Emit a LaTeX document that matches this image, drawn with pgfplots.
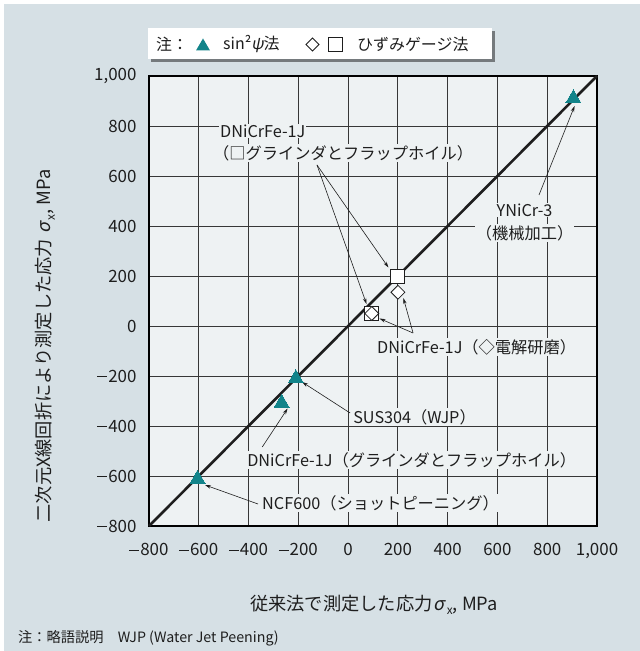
\documentclass[border=0pt]{standalone}
\usepackage{graphicx}
\usepackage{pgfplots}
\pgfplotsset{compat=1.18}
\usepackage{fontspec}
\setmainfont{Noto Sans CJK JP}
\newfontfamily\slantfont{Noto Sans CJK JP}[FakeSlant=0.2]
\usetikzlibrary{arrows.meta,shadows}

\definecolor{panel}{RGB}{214,224,229}
\definecolor{plotbg}{RGB}{238,242,243}
\definecolor{tealmark}{RGB}{18,132,138}
\definecolor{gridc}{RGB}{55,55,55}
\definecolor{inkc}{RGB}{30,30,30}

\newcommand{\sig}{\kern0.06em{\slantfont σ}\kern0.12em\raisebox{-0.25em}{\scalebox{0.65}{x}}}
\newcommand{\annfont}{\fontsize{16.3}{18}\selectfont}
\newcommand{\labfont}{\fontsize{18.3}{20}\selectfont}
% long minus for the tick labels
\newcommand{\mn}{\rule[0.3em]{0.58em}{0.07em}\kern0.06em}

\begin{document}
\begin{tikzpicture}
\useasboundingbox (0,0) rectangle (640bp,651bp);
\fill[panel] (4bp,0) rectangle (640bp,647bp);

\begin{axis}[
  at={(149bp,125bp)}, anchor=south west,
  width=448bp, height=450bp, scale only axis,
  xmin=-800, xmax=1000, ymin=-800, ymax=1000,
  xtick={-800,-600,...,1000}, ytick={-800,-600,...,1000},
  xticklabels={\mn800,\mn600,\mn400,\mn200,0,200,400,600,800,{1,000}},
  yticklabels={\mn800,\mn600,\mn400,\mn200,0,200,400,600,800,{1,000}},
  major tick length=0pt,
  grid=major,
  major grid style={draw=gridc, line width=0.95bp},
  axis line style={draw=black, line width=1.8bp},
  axis background/.style={fill=plotbg},
  tick label style={font=\fontsize{17}{18}\selectfont, text=inkc},
  xticklabel style={yshift=-14bp},
  yticklabel style={xshift=-9bp},
  clip=false,
]
% y = x reference line
\addplot[inkc, line width=2.6bp, no marks] coordinates {(-800,-800) (1000,1000)};

% sin^2 psi method
\addplot[only marks, mark=triangle*, mark size=8.7bp,
  mark options={fill=tealmark, draw=tealmark, line width=0pt}]
  coordinates {(905,910) (-210,-210) (-267,-308) (-605,-612)};

% strain gauge: squares
\addplot[only marks, mark=square*, mark size=7bp,
  mark options={fill=white, draw=inkc, line width=0.8bp}]
  coordinates {(200,200) (95,50)};
% strain gauge: diamonds
\addplot[only marks, mark=square*, mark size=4.9bp,
  mark options={rotate=45, fill=white, draw=inkc, line width=0.8bp}]
  coordinates {(200,135) (95,50)};

% annotations
\tikzset{ann/.style={fill=plotbg, inner sep=1bp, font=\annfont, text=inkc},
         arr/.style={draw=inkc, line width=0.6bp, -{Stealth[length=6bp,width=3.5bp]}}}

\node[ann, anchor=west] at (axis cs:-519,780) {DNiCrFe-1J};
\node[ann, anchor=west] at (axis cs:-547,692) {（□グラインダとフラップホイル）};
\draw[arr] (axis cs:-125,644) -- (axis cs:162,234);
\draw[arr] (axis cs:-125,644) -- (axis cs:74,88);

\node[ann] at (axis cs:709,464) {YNiCr-3};
\node[ann] at (axis cs:709,372) {（機械加工）};
\draw[arr] (axis cs:767,524) -- (axis cs:910,880);

\node[ann, anchor=west] at (axis cs:112,-84) {DNiCrFe-1J（◇電解研磨）};
\draw[arr] (axis cs:261,-28) -- (axis cs:222,112);
\draw[arr] (axis cs:261,-28) -- (axis cs:126,30);

\node[ann, anchor=west] at (axis cs:16,-364) {SUS304（WJP）};
\draw[arr] (axis cs:8,-348) -- (axis cs:-185,-224);

\node[ann, anchor=west] at (axis cs:-410,-536) {DNiCrFe-1J（グラインダとフラップホイル）};
\draw[arr] (axis cs:-345,-484) -- (axis cs:-243,-330);

\node[ann, anchor=west] at (axis cs:-350,-708) {NCF600（ショットピーニング）};
\draw[arr] (axis cs:-362,-712) -- (axis cs:-575,-636);
\end{axis}

% axis titles
\node[font=\labfont, text=inkc] at (374bp,46bp) {従来法で測定した応力\sig, MPa};
\node[font=\labfont, text=inkc, rotate=90] at (45bp,305bp) {二次元X線回折により測定した応力 \sig, MPa};

% legend box
\node[fill=white, minimum width=344bp, minimum height=31bp, inner sep=0, anchor=north west,
  drop shadow={shadow xshift=2.5bp, shadow yshift=-2.5bp, fill=black, opacity=0.45}]
  at (148bp,623bp) {};
\node[anchor=west, inner sep=0, font=\fontsize{16}{17}\selectfont, text=inkc] at (156bp,607bp) {注：};
\fill[tealmark] (196bp,600.5bp) -- (210bp,600.5bp) -- (203bp,612.5bp) -- cycle;
\node[anchor=west, inner sep=0, font=\fontsize{16}{17}\selectfont, text=inkc] at (223bp,607bp) {sin²{\slantfont ψ}法};
\draw[inkc, line width=0.9bp] (312.5bp,613bp) -- (319bp,606.5bp) -- (312.5bp,600bp) -- (306bp,606.5bp) -- cycle;
\draw[inkc, line width=0.9bp] (328.5bp,599.5bp) rectangle (342.5bp,613.5bp);
\node[anchor=west, inner sep=0, font=\fontsize{16}{17}\selectfont, text=inkc] at (357bp,607bp) {ひずみゲージ法};

% footnote
\node[anchor=west, inner sep=0, font=\fontsize{14.3}{15}\selectfont, text=inkc] at (18bp,13bp) {注：略語説明　WJP (Water Jet Peening)};
\end{tikzpicture}
\end{document}
